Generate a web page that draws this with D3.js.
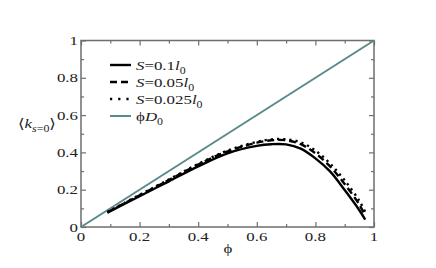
<!DOCTYPE html>
<html>
<head>
<meta charset="utf-8">
<script src="https://cdn.jsdelivr.net/npm/d3@7"></script>
<style>
  body { margin: 0; background: #fff; }
  text { font-family: "Liberation Serif", "DejaVu Serif", serif; fill: #222; }
</style>
</head>
<body>
<div id="chart"></div>
<script>
// data
const phi    = [0.09, 0.1, 0.2, 0.3, 0.4, 0.5, 0.6, 0.65, 0.7, 0.75, 0.8, 0.85, 0.9, 0.95, 0.97];
const s01    = [0.077, 0.085, 0.165, 0.245, 0.325, 0.395, 0.435, 0.444, 0.443, 0.42, 0.368, 0.298, 0.198, 0.09, 0.04];
const s005   = [0.078, 0.087, 0.17, 0.252, 0.335, 0.405, 0.452, 0.465, 0.465, 0.444, 0.395, 0.325, 0.23, 0.12, 0.06];
const s0025  = [0.08, 0.089, 0.172, 0.255, 0.338, 0.41, 0.456, 0.47, 0.47, 0.454, 0.41, 0.34, 0.25, 0.14, 0.08];
const diag   = [0, 1];
const ticks  = [0, 0.2, 0.4, 0.6, 0.8, 1];
const tickLabels = ['0', '0.2', '0.4', '0.6', '0.8', '1'];
const minorTicks = [0.1, 0.3, 0.5, 0.7, 0.9];

const W = 436, H = 268;
const mLeft = 81, mRight = 374, mTop = 40.5, mBottom = 227;
const stretch = 1.25; // text in the figure is stretched sideways
const teal = '#5b8a8a';

const svg = d3.select('#chart').append('svg')
  .attr('width', W).attr('height', H);

const x = d3.scaleLinear().domain([0, 1]).range([mLeft, mRight]);
const y = d3.scaleLinear().domain([0, 1]).range([mBottom, mTop]);

// ticks, pointing inward, on all four sides
const axisCol = '#6e6e6e';
function ticksOn(axis, pos) {
  const gMaj = svg.append('g').attr('transform', pos)
    .call(axis.tickValues(ticks).tickSize(-5).tickFormat(''));
  const gMin = svg.append('g').attr('transform', pos)
    .call(axis.tickValues(minorTicks).tickSize(-3).tickFormat(''));
  [gMaj, gMin].forEach(g => {
    g.select('.domain').remove();
    g.selectAll('line').attr('stroke', axisCol).attr('stroke-width', 1.2);
  });
}
ticksOn(d3.axisBottom(x), `translate(0,${mBottom})`);
ticksOn(d3.axisTop(x), `translate(0,${mTop})`);
ticksOn(d3.axisLeft(y), `translate(${mLeft},0)`);
ticksOn(d3.axisRight(y), `translate(${mRight},0)`);

svg.append('rect')
  .attr('x', mLeft).attr('y', mTop)
  .attr('width', mRight - mLeft).attr('height', mBottom - mTop)
  .attr('fill', 'none').attr('stroke', axisCol).attr('stroke-width', 1.5);

function txt(px, py, anchor, size) {
  return svg.append('text')
    .attr('transform', `translate(${px},${py}) scale(${stretch},1)`)
    .attr('text-anchor', anchor)
    .attr('font-size', size || 13.5);
}

// tick labels
ticks.forEach((t, i) => {
  txt(x(t), mBottom + 14, 'middle').text(tickLabels[i]);
  txt(mLeft - 3, y(t) + 4.5, 'end').text(tickLabels[i]);
});

// axis titles
txt(228, 253, 'middle').text('ϕ');
const yl = txt(18, 128, 'start');
yl.append('tspan').text('⟨');
yl.append('tspan').attr('font-style', 'italic').text('k');
yl.append('tspan').attr('font-style', 'italic').attr('font-size', 9.5).attr('dy', 4).text('s');
yl.append('tspan').attr('font-size', 9.5).text('=0');
yl.append('tspan').attr('dy', -4).text('⟩');

// curves
const line = d3.line()
  .x(d => x(d[0])).y(d => y(d[1]));

svg.append('path')
  .datum(diag.map(d => [d, d]))
  .attr('d', line.curve(d3.curveLinear))
  .attr('fill', 'none').attr('stroke', teal).attr('stroke-width', 2);

line.curve(d3.curveCatmullRom);
const series = [
  { vals: s01, dash: null },
  { vals: s005, dash: '7,4' },
  { vals: s0025, dash: '2.2,4' }
];
series.forEach(s => {
  svg.append('path')
    .datum(phi.map((p, i) => [p, s.vals[i]]))
    .attr('d', line)
    .attr('fill', 'none').attr('stroke', '#000')
    .attr('stroke-width', 2.4)
    .attr('stroke-dasharray', s.dash);
});

// legend
const legY = [65, 82, 99, 116];
const legItems = [
  { val: '0.1', dash: null, col: '#000' },
  { val: '0.05', dash: '7,4', col: '#000' },
  { val: '0.025', dash: '2.2,6', col: '#000' },
  { val: null, dash: null, col: teal }
];
legItems.forEach((it, i) => {
  svg.append('line')
    .attr('x1', 110).attr('x2', 131).attr('y1', legY[i]).attr('y2', legY[i])
    .attr('stroke', it.col).attr('stroke-width', it.val ? 2.4 : 2)
    .attr('stroke-dasharray', it.dash);
  const t = txt(136, legY[i] + 4.5, 'start');
  if (it.val) {
    t.append('tspan').attr('font-style', 'italic').text('S');
    t.append('tspan').text('=' + it.val);
    t.append('tspan').attr('font-style', 'italic').text('l');
    t.append('tspan').attr('font-size', 9.5).attr('dy', 4).text('0');
  } else {
    t.append('tspan').text('ϕ');
    t.append('tspan').attr('font-style', 'italic').text('D');
    t.append('tspan').attr('font-size', 9.5).attr('dy', 4).text('0');
  }
});
</script>
</body>
</html>
